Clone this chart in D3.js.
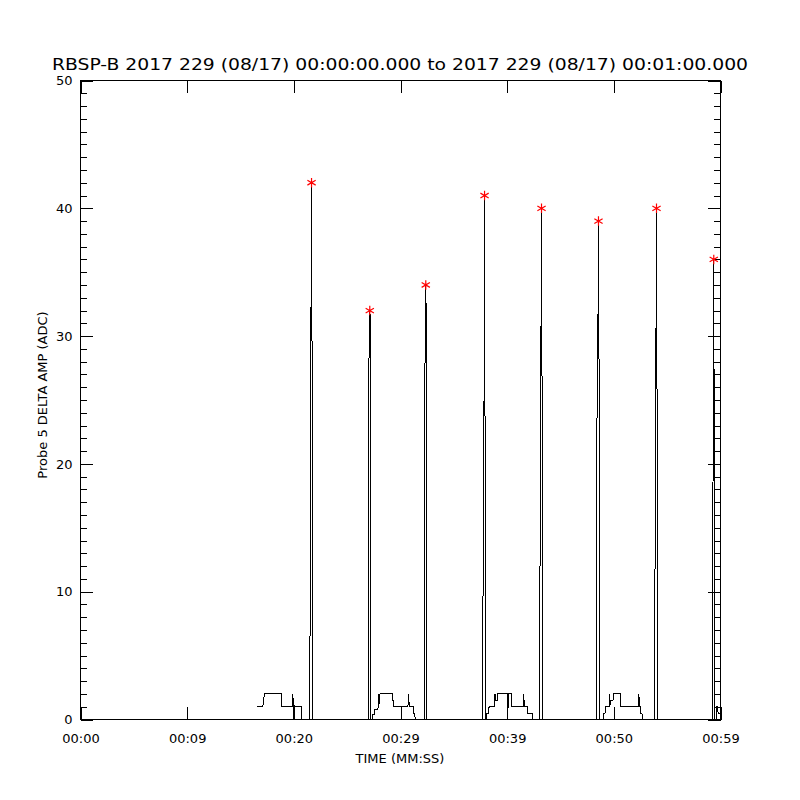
<!DOCTYPE html>
<html>
<head>
<meta charset="utf-8">
<script src="https://cdn.jsdelivr.net/npm/d3@7"></script>
<style>
  body { margin: 0; background: #fff; }
  svg { display: block; }
  text { font-family: "DejaVu Sans", sans-serif; fill: #000; }
</style>
</head>
<body>
<svg id="chart" width="800" height="800"></svg>
<script>
// time in seconds after 00:00:00, value in ADC counts
var burstA = [[16.50,1],[17.09,1],[17.16,1.5],[17.25,2],[18.84,2],[18.86,1],[19.90,1],[19.92,2],[19.94,0],[19.99,1.5],[20.03,1],[20.72,1],[20.74,0]];
var spike1 = [[21.50,0],[21.52,7.7],[21.59,28],[21.66,42],[21.71,28],[21.75,8],[21.77,0]];
var spike2 = [[26.96,0],[26.97,16],[27.07,31.5],[27.12,32],[27.16,31.5],[27.20,15],[27.22,0]];
var burstB = [[27.40,0],[27.42,0.4],[27.59,0.4],[27.61,0.8],[27.87,0.8],[27.94,1.2],[27.98,2],[28.03,1.2],[28.08,2],[29.22,2],[29.24,1.5],[29.37,1.5],[29.39,1],[30.05,1],[30.06,0],[30.08,1],[30.70,1],[30.72,1.5],[30.75,2],[30.78,1.5],[30.84,1],[31.20,1],[31.22,0.5],[31.35,0.5],[31.37,0]];
var spike3 = [[32.21,0],[32.22,14.5],[32.32,31.5],[32.37,34],[32.41,31.5],[32.45,14],[32.47,0]];
var spike4 = [[37.72,0],[37.73,8.5],[37.83,25],[37.88,41],[37.92,25],[37.96,8.5],[37.98,0]];
var burstC = [[38.06,0],[38.08,0.5],[38.28,0.5],[38.30,1],[38.84,1],[38.86,2],[38.90,1.5],[39.07,1.5],[39.10,2],[40.04,2],[40.05,1],[40.06,0],[40.08,1],[40.10,2],[40.38,2],[40.40,1],[41.50,1],[41.53,2],[41.58,1.5],[41.65,1],[41.88,1],[41.90,0.5],[42.35,0.5],[42.37,0]];
var spike5 = [[43.06,0],[43.07,10],[43.17,30],[43.22,40],[43.26,30],[43.30,10],[43.32,0]];
var spike6 = [[48.40,0],[48.41,22.5],[48.51,30.5],[48.56,39],[48.60,30.5],[48.64,22],[48.66,0]];
var burstD = [[49.03,0],[49.06,0.5],[49.17,0.5],[49.22,1],[49.55,1],[49.59,2],[49.62,1],[49.69,1.5],[49.92,1.5],[49.97,2],[50.63,2],[50.67,1],[52.28,1],[52.34,2],[52.38,1.5],[52.41,1],[52.50,1],[52.52,0.5],[52.64,0.5],[52.66,0]];
var spike7 = [[53.84,0],[53.85,9.5],[53.95,29.5],[54.00,40],[54.04,29.5],[54.08,9.5],[54.10,0]];
var spike8 = [[59.21,0],[59.22,13.5],[59.32,20],[59.37,36],[59.41,20],[59.45,13.5],[59.47,0]];
var tail = [[59.60,0],[59.62,1],[59.75,1],[59.77,0.5],[59.95,0.5]];

var xTickSecs = [0, 10, 20, 30, 40, 50, 60];
var xTickLabels = ["00:00", "00:09", "00:20", "00:29", "00:39", "00:50", "00:59"];
var yTicks = [0, 10, 20, 30, 40, 50];

var titleText = "RBSP-B 2017 229 (08/17) 00:00:00.000 to 2017 229 (08/17) 00:01:00.000";

var spikes = [spike1, spike2, spike3, spike4, spike5, spike6, spike7, spike8];
var trace = [].concat(burstA, spike1, spike2, burstB, spike3, spike4, burstC,
                      spike5, spike6, burstD, spike7, spike8, tail);
var peaks = spikes.map(function (s) { return d3.greatest(s, function (d) { return d[1]; }); });

var svg = d3.select("#chart");
var x = d3.scaleLinear().domain([0, 60]).range([80.5, 720.5]);
var y = d3.scaleLinear().domain([0, 50]).range([719.5, 80.5]);
var major = 12.8, minor = 6.4;

function styleAxis(g) {
  g.select(".domain").remove();
  g.selectAll("line").attr("stroke", "#000").attr("shape-rendering", "crispEdges");
  g.selectAll("text").attr("font-family", "DejaVu Sans, sans-serif").attr("font-size", 13).attr("fill", "#000");
}

// bottom / top
svg.append("g").attr("transform", "translate(0,719.5)")
  .call(d3.axisBottom(x).tickValues(xTickSecs).tickSize(-major).tickPadding(14)
    .tickFormat(function (d, i) { return xTickLabels[i]; }))
  .call(styleAxis);
svg.append("g").attr("transform", "translate(0,80.5)")
  .call(d3.axisTop(x).tickValues(xTickSecs).tickSize(-major).tickFormat(""))
  .call(styleAxis);

// left / right, with minor ticks every 1 count
svg.append("g").attr("transform", "translate(80.5,0)")
  .call(d3.axisLeft(y).tickValues(d3.range(0, 51, 1)).tickSize(-minor).tickFormat(""))
  .call(styleAxis);
svg.append("g").attr("transform", "translate(80.5,0)")
  .call(d3.axisLeft(y).tickValues(yTicks).tickSize(-major).tickPadding(8).tickFormat(d3.format("d")))
  .call(styleAxis);
svg.append("g").attr("transform", "translate(720.5,0)")
  .call(d3.axisRight(y).tickValues(d3.range(0, 51, 1)).tickSize(-minor).tickFormat(""))
  .call(styleAxis);
svg.append("g").attr("transform", "translate(720.5,0)")
  .call(d3.axisRight(y).tickValues(yTicks).tickSize(-major).tickFormat(""))
  .call(styleAxis);

// frame
svg.append("rect")
  .attr("x", x(0)).attr("y", y(50))
  .attr("width", x(60) - x(0)).attr("height", y(0) - y(50))
  .attr("fill", "none").attr("stroke", "#000").attr("shape-rendering", "crispEdges");

// trace
var line = d3.line().x(function (d) { return x(d[0]); }).y(function (d) { return y(d[1]); });
svg.append("path").datum(trace)
  .attr("d", line)
  .attr("fill", "none").attr("stroke", "#000").attr("stroke-width", 1)
  .attr("shape-rendering", "crispEdges");

// peak markers
svg.selectAll(".peak").data(peaks).enter().append("path")
  .attr("class", "peak")
  .attr("transform", function (d) { return "translate(" + x(d[0]) + "," + y(d[1]) + ")"; })
  .attr("d", d3.symbol(d3.symbolAsterisk, 64))
  .attr("fill", "none").attr("stroke", "#ff0000").attr("stroke-width", 1.2);

// titles
svg.append("text")
  .attr("x", 400).attr("y", 70)
  .attr("text-anchor", "middle").attr("font-size", 16)
  .attr("textLength", 696).attr("lengthAdjust", "spacingAndGlyphs")
  .text(titleText);

svg.append("text")
  .attr("x", 400).attr("y", 763)
  .attr("text-anchor", "middle").attr("font-size", 13)
  .text("TIME (MM:SS)");

svg.append("text")
  .attr("transform", "translate(47,395) rotate(-90)")
  .attr("text-anchor", "middle").attr("font-size", 13)
  .text("Probe 5 DELTA AMP (ADC)");
</script>
</body>
</html>
